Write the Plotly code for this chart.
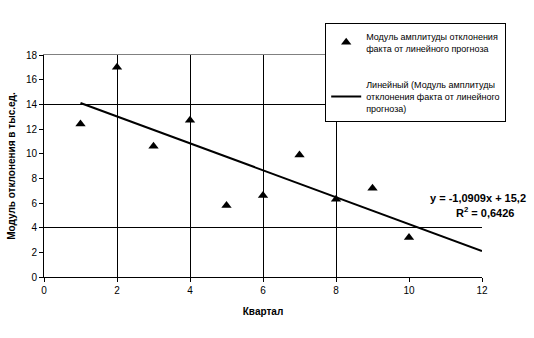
import plotly.graph_objects as go

quarters = [1, 2, 3, 4, 5, 6, 7, 8, 9, 10]
deviation = [12.4, 17.0, 10.6, 12.7, 5.8, 6.6, 9.9, 6.3, 7.2, 3.2]
slope = -1.0909
intercept = 15.2
r2 = 0.6426
trend_x = [1, 12]
trend_y = [slope * x + intercept for x in trend_x]

x_ticks = [0, 2, 4, 6, 8, 10, 12]
y_ticks = [0, 2, 4, 6, 8, 10, 12, 14, 16, 18]
x_grid = [2, 4, 6, 8]
y_grid = [4, 14]

FONT = "Liberation Sans Narrow, Arial Narrow, Liberation Sans, Arial"

fig = go.Figure()
# invisible trace to activate the grid axes (drawn first, beneath)
fig.add_trace(go.Scatter(x=[0], y=[0], xaxis="x2", yaxis="y2", mode="markers",
                         marker=dict(opacity=0), showlegend=False, hoverinfo="skip"))
fig.add_trace(go.Scatter(
    x=quarters, y=deviation, mode="markers",
    marker=dict(symbol="triangle-up", size=9, color="black"),
    name="Модуль амплитуды отклонения<br>факта от линейного прогноза",
    legendgroup="a",
))
fig.add_trace(go.Scatter(
    x=trend_x, y=trend_y, mode="lines",
    line=dict(color="black", width=2),
    name="Линейный (Модуль амплитуды<br>отклонения факта от линейного<br>прогноза)",
    legendgroup="b",
))

fig.update_layout(
    width=534, height=338,
    margin=dict(l=44, r=52, t=55, b=61),
    paper_bgcolor="white", plot_bgcolor="white",
    font=dict(family=FONT, size=10, color="black"),
    showlegend=True,
    legend=dict(
        x=0.642, y=1.144, xanchor="left", yanchor="top",
        bgcolor="white", bordercolor="black", borderwidth=1,
        font=dict(size=9, family=FONT), traceorder="grouped",
        tracegroupgap=22, itemwidth=30,
    ),
    xaxis=dict(
        range=[0, 12], tickvals=x_ticks, showgrid=False, zeroline=False,
        showline=True, linecolor="black", linewidth=1,
        ticks="outside", ticklen=4, tickcolor="black", automargin=False,
        title=dict(text="<b>Квартал</b>", font=dict(size=10), standoff=12),
    ),
    yaxis=dict(
        range=[0, 18], tickvals=y_ticks, showgrid=False, zeroline=False,
        showline=True, linecolor="black", linewidth=1,
        ticks="outside", ticklen=4, tickcolor="black", automargin=False,
        title=dict(text="<b>Модуль отклонения в тыс.ед.</b>", font=dict(size=10), standoff=8),
    ),
    xaxis2=dict(
        overlaying="x", range=[0, 12], tickvals=x_grid, showgrid=True,
        gridcolor="black", gridwidth=1, showticklabels=False, zeroline=False,
        side="top", showline=True, linecolor="#808080", ticks="",
    ),
    yaxis2=dict(
        overlaying="y", range=[0, 18], tickvals=y_grid, showgrid=True,
        gridcolor="black", gridwidth=1, showticklabels=False, zeroline=False,
    ),
)

fig.add_annotation(
    x=0.991, y=0.356, xref="paper", yref="paper",
    text=f"<b>y = {slope:.4f}x + {intercept:.1f}</b>".replace(".", ","),
    showarrow=False, xanchor="center", yanchor="middle", font=dict(size=11, family=FONT),
)
fig.add_annotation(
    x=1.007, y=0.293, xref="paper", yref="paper",
    text=f"<b>R<sup>2</sup> = {r2:.4f}</b>".replace(".", ","),
    showarrow=False, xanchor="center", yanchor="middle", font=dict(size=11, family=FONT),
)

fig.write_html("out.html")
